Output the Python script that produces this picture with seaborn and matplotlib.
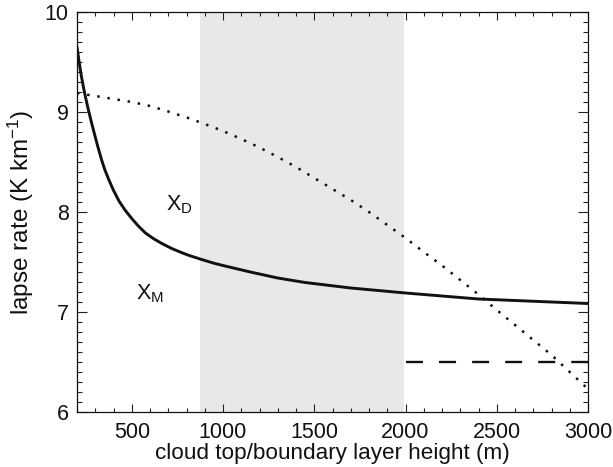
import matplotlib
matplotlib.use("Agg")
import matplotlib.pyplot as plt
import seaborn as sns
import numpy as np

# ---- data ----
solid_x = [200, 210, 222, 233, 244, 260, 280, 300, 317, 335, 353, 375, 399, 430,
           463, 500, 536, 575, 618, 665, 719, 765, 810, 883, 950, 1011, 1150, 1300,
           1450, 1700, 2000, 2400, 3000]
solid_y = [9.65, 9.52, 9.38, 9.27, 9.17, 9.04, 8.89, 8.75, 8.635, 8.52, 8.42, 8.32,
           8.22, 8.11, 8.02, 7.935, 7.86, 7.79, 7.735, 7.685, 7.635, 7.60, 7.568,
           7.525, 7.488, 7.46, 7.40, 7.34, 7.295, 7.24, 7.19, 7.13, 7.085]

dotted_x = [200, 300, 400, 500, 600, 700, 800, 900, 1000, 1100, 1200, 1300, 1400,
            1500, 1600, 1700, 1800, 1900, 2000, 2100, 2200, 2300, 2400, 2500, 2600,
            2700, 2800, 2900, 3000]
dotted_y = [9.19, 9.16, 9.13, 9.10, 9.06, 9.005, 8.946, 8.88, 8.81, 8.73, 8.645,
            8.55, 8.45, 8.34, 8.23, 8.12, 8.00, 7.87, 7.74, 7.60, 7.465, 7.32, 7.175,
            7.02, 6.87, 6.72, 6.57, 6.40, 6.23]

dashed_x = [2000, 3000]
dashed_y = [6.5, 6.5]

shade_range = [875, 1990]

xticks = [500, 1000, 1500, 2000, 2500, 3000]
yticks = [6, 7, 8, 9, 10]

label_xd = ("X", "D", 690, 8.07)
label_xm = ("X", "M", 525, 7.18)

# ---- style ----
sns.set_style("ticks")
plt.rcParams["font.family"] = ["Liberation Sans", "DejaVu Sans"]
plt.rcParams["mathtext.fontset"] = "custom"
plt.rcParams["mathtext.rm"] = "Liberation Sans"
plt.rcParams["mathtext.it"] = "Liberation Sans"

fig = plt.figure(figsize=(6.13, 4.67), dpi=100)
ax = fig.add_axes([77 / 613, 1 - 412 / 467, 511 / 613, 400 / 467])

ax.axvspan(shade_range[0], shade_range[1], color="#e7e8ea", lw=0, zorder=0)

sns.lineplot(x=solid_x, y=solid_y, ax=ax, color="#111111", linewidth=2.1,
             sort=False, estimator=None)
sns.lineplot(x=dotted_x, y=dotted_y, ax=ax, color="#111111", linewidth=1.8,
             linestyle=(0, (1, 3.1)), sort=False, estimator=None)
sns.lineplot(x=dashed_x, y=dashed_y, ax=ax, color="#111111", linewidth=1.7,
             linestyle=(0, (7.2, 6.8)), sort=False, estimator=None)

ax.set_xlim(200, 3000)
ax.set_ylim(6, 10)
ax.set_xticks(xticks)
ax.set_yticks(yticks)
ax.set_xticks(np.arange(200, 3001, 100), minor=True)
ax.set_yticks(np.arange(6, 10.001, 0.1), minor=True)

ax.tick_params(axis="both", which="both", direction="in", top=True, right=True,
               width=0.8, color="#222222", labelsize=15.5, labelcolor="#111111")
ax.tick_params(axis="x", which="major", length=5.5, pad=7)
ax.tick_params(axis="x", which="minor", length=2.8)
ax.tick_params(axis="y", which="major", length=7.5, pad=6)
ax.tick_params(axis="y", which="minor", length=3.6)
for s in ax.spines.values():
    s.set_linewidth(0.9)
    s.set_color("#111111")

ax.set_xlabel("cloud top/boundary layer height (m)", fontsize=16.2, color="#111111",
              labelpad=0)
ax.set_ylabel(r"lapse rate (K km$^{\mathregular{-1}}$)", fontsize=17.5,
              color="#111111", labelpad=6)

for (main, sub, tx, ty) in (label_xd, label_xm):
    ax.text(tx, ty, main + r"$_{\mathregular{" + sub + "}}$", fontsize=15.5,
            color="#111111", ha="left", va="center")

fig.savefig("out.png", dpi=100)
